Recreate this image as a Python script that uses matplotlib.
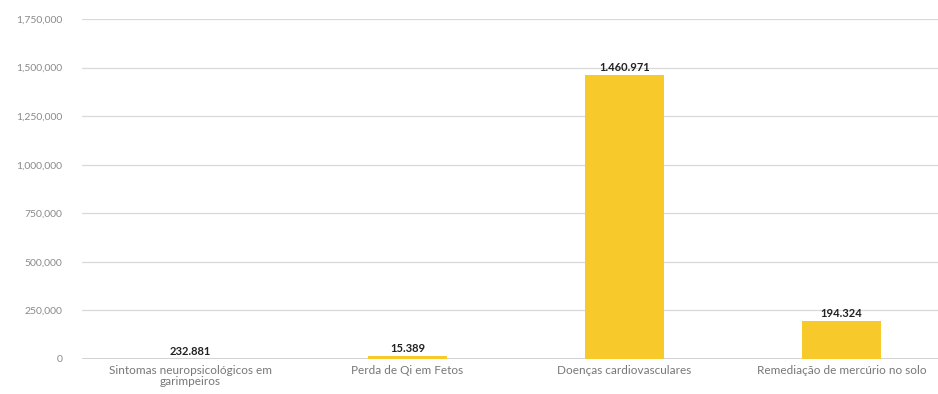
import matplotlib.pyplot as plt
from matplotlib.ticker import FuncFormatter

categories = ['Sintomas neuropsicológicos em\ngarimpeiros', 'Perda de Qi em Fetos',
              'Doenças cardiovasculares', 'Remediação de mercúrio no solo']
values = [232.881, 15389, 1460971, 194324]
value_labels = ['232.881', '15.389', '1.460.971', '194.324']
yticks = [0, 250000, 500000, 750000, 1000000, 1250000, 1500000, 1750000]

plt.rcParams['font.family'] = ['Lato', 'DejaVu Sans']

fig = plt.figure(figsize=(9.38, 3.94), dpi=100)
ax = fig.add_axes([82/938, 35/394, 868/938, 340/394])

x = range(len(categories))
bars = ax.bar(x, values, width=0.36, color='#F7C92B', zorder=3)

for xi, v, lab in zip(x, values, value_labels):
    ax.text(xi, v + 12000, lab, ha='center', va='bottom', fontsize=8,
            fontweight='bold', color='#222222', zorder=4)

ax.set_xlim(-0.5, 3.5)
ax.set_ylim(0, 1750000)
ax.set_yticks(yticks)
ax.yaxis.set_major_formatter(FuncFormatter(lambda v, p: '{:,.0f}'.format(v)))
ax.set_xticks(list(x))
ax.set_xticklabels(categories, fontsize=8.5, color='#777777', linespacing=1.0)
ax.tick_params(axis='y', labelsize=7.5, labelcolor='#8a8a8a', length=0, pad=14)
ax.tick_params(axis='x', length=0, pad=4)
ax.grid(axis='y', color='#d9d9d9', linewidth=0.9, zorder=0)
ax.axhline(0, color='#cccccc', linewidth=1.2, zorder=2)
for s in ax.spines.values():
    s.set_visible(False)

fig.savefig('out.png', dpi=100)
